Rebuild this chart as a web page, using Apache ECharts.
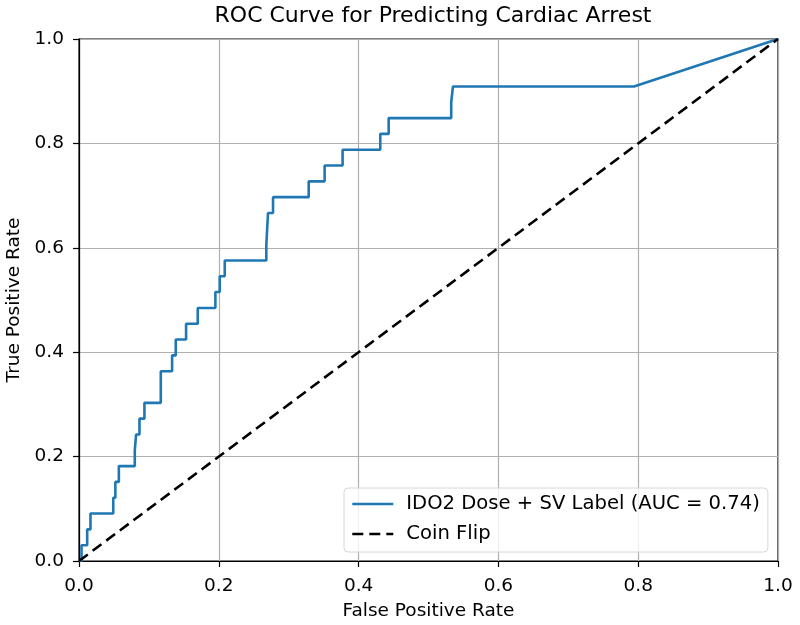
<!DOCTYPE html>
<html>
<head>
<meta charset="utf-8">
<script src="https://cdn.jsdelivr.net/npm/echarts@6/dist/echarts.min.js"></script>
<style>html,body{margin:0;padding:0;background:#fff}#c{width:800px;height:625px}</style>
</head>
<body>
<div id="c"></div>
<script>
// ROC corner points
const fpr = [0, 0.0036, 0.0036, 0.0117, 0.0117, 0.0164, 0.0164, 0.049, 0.049, 0.052, 0.052, 0.057, 0.057,
  0.0798, 0.0798, 0.0817, 0.0817, 0.0865, 0.0865, 0.0936, 0.0936, 0.117, 0.117, 0.1332, 0.1332, 0.1384, 0.1384,
  0.1532, 0.1532, 0.1699, 0.1699, 0.1951, 0.1951, 0.2013, 0.2013, 0.2085, 0.2085, 0.268, 0.268, 0.2704, 0.2704,
  0.2776, 0.2776, 0.3286, 0.3286, 0.3514, 0.3514, 0.3771, 0.3771, 0.431, 0.431, 0.443, 0.443, 0.5325, 0.5325,
  0.535, 0.535, 0.794, 1.0];
const tpr = [0, 0, 0.0303, 0.0303, 0.0606, 0.0606, 0.0909, 0.0909, 0.1212, 0.1212, 0.1515, 0.1515, 0.1818,
  0.1818, 0.2121, 0.2121, 0.2424, 0.2424, 0.2727, 0.2727, 0.3030, 0.3030, 0.3636, 0.3636, 0.3939, 0.3939, 0.4242,
  0.4242, 0.4545, 0.4545, 0.4848, 0.4848, 0.5152, 0.5152, 0.5455, 0.5455, 0.5758, 0.5758, 0.6061, 0.6061, 0.6667,
  0.6667, 0.6970, 0.6970, 0.7273, 0.7273, 0.7576, 0.7576, 0.7879, 0.7879, 0.8182, 0.8182, 0.8485, 0.8485, 0.8788,
  0.8788, 0.9091, 0.9091, 1.0];
const coinX = [0, 1];
const coinY = [0, 1];
const curveName = 'IDO2 Dose + SV Label (AUC = 0.74)';
const coinName = 'Coin Flip';
const titleText = 'ROC Curve for Predicting Cardiac Arrest';

const font = 'DejaVu Sans';
const chart = echarts.init(document.getElementById('c'), null, {renderer: 'canvas'});
const axisCommon = {
  type: 'value', min: 0, max: 1, interval: 0.2,
  axisLine: {show: true, onZero: false, lineStyle: {color: '#000', width: 1.2}},
  axisTick: {show: true, inside: false, length: 6, lineStyle: {color: '#000', width: 1.2}},
  axisLabel: {color: '#000', fontFamily: font, fontSize: 18.5, formatter: v => v.toFixed(1)},
  splitLine: {show: true, lineStyle: {color: '#b0b0b0', width: 1.2}},
  nameLocation: 'middle',
  nameTextStyle: {color: '#000', fontFamily: font, fontSize: 18.5}
};
chart.setOption({
  animation: false,
  backgroundColor: '#fff',
  title: {text: titleText, left: 428, textAlign: 'center', top: 0,
    textStyle: {color: '#000', fontFamily: font, fontSize: 22, fontWeight: 'normal'}},
  grid: {left: 79, right: 22, top: 39, bottom: 64, show: true, borderColor: '#000', borderWidth: 1.2,
    containLabel: false, outerBoundsMode: 'none'},
  xAxis: Object.assign({}, axisCommon, {name: 'False Positive Rate', nameGap: 41, axisLabel: Object.assign({}, axisCommon.axisLabel, {margin: 16})}),
  yAxis: Object.assign({}, axisCommon, {name: 'True Positive Rate', nameGap: 53, axisLabel: Object.assign({}, axisCommon.axisLabel, {margin: 15})}),
  legend: {
    show: true, orient: 'vertical', left: 344, top: 488,
    data: [curveName, coinName],
    itemWidth: 41, itemHeight: 14, itemGap: 10,
    padding: [6, 8, 8, 7],
    itemStyle: {opacity: 0},
    lineStyle: {width: 2.6},
    borderColor: '#d6d6d6', borderWidth: 1, borderRadius: 4, backgroundColor: 'rgba(255,255,255,0.8)',
    textStyle: {color: '#000', fontFamily: font, fontSize: 19.6, padding: [0, 0, 0, 8]}
  },
  series: [
    {name: curveName, type: 'line', data: fpr.map((x, i) => [x, tpr[i]]), symbol: 'none', showSymbol: false,
      lineStyle: {color: '#1f77b4', width: 2.6}, itemStyle: {color: '#1f77b4'}, z: 3},
    {name: coinName, type: 'line', data: coinX.map((x, i) => [x, coinY[i]]), symbol: 'none', showSymbol: false,
      lineStyle: {color: '#000', width: 2.6, type: [11, 6]}, itemStyle: {color: '#000'}, z: 4}
  ]
});
</script>
</body>
</html>
